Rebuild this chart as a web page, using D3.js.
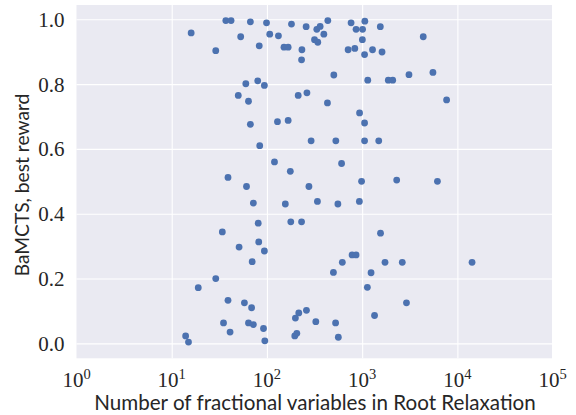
<!DOCTYPE html>
<html>
<head>
<meta charset="utf-8">
<script src="https://cdn.jsdelivr.net/npm/d3@7"></script>
<style>
  body { margin: 0; background: #fff; overflow: hidden; }
  svg { display: block; }
  .tick-label { font-family: 'Liberation Serif', serif; fill: #262626; }
  .axis-title { font-family: Lato, 'DejaVu Sans', sans-serif; fill: #262626; }
  .grid-line { stroke: #fff; stroke-width: 1.1; }
</style>
</head>
<body>
<div id="chart"></div>
<script>
// number of fractional variables in the root relaxation (x) and BaMCTS best reward (y)
const fracVars = [16, 37, 42, 29, 53, 67, 83, 99, 107, 60, 80, 94, 50, 64, 67, 84,
  39, 61, 72, 81, 34, 82, 51, 94, 70, 29, 19, 39, 58, 69, 35, 64, 72, 41, 92,
  14, 15, 95, 181, 132, 258, 151, 167, 233, 231, 334, 362, 436, 316, 342, 396,
  504, 765, 863, 1010, 712, 837, 1005, 1060, 1067, 213, 263, 432, 129, 167, 291,
  529, 939, 1060, 1060, 120, 176, 276, 608, 986, 156, 339, 556, 935, 178, 231,
  619, 499, 784, 863, 1134, 199, 216, 260, 326, 526, 196, 206, 562, 1551, 4380,
  1285, 1617, 1145, 1882, 2094, 3102, 5536, 7706, 1493, 2305, 6172, 1559, 1738,
  2638, 14260, 1240, 2920, 1349];
const bestReward = [0.958, 0.996, 0.996, 0.903, 0.946, 0.992, 0.918, 0.989, 0.954,
  0.801, 0.810, 0.796, 0.765, 0.747, 0.676, 0.610, 0.512, 0.484, 0.433, 0.371,
  0.344, 0.313, 0.297, 0.285, 0.252, 0.200, 0.172, 0.133, 0.125, 0.110, 0.063,
  0.063, 0.058, 0.035, 0.046, 0.023, 0.004, 0.008, 0.985, 0.949, 0.977, 0.914,
  0.914, 0.906, 0.875, 0.969, 0.978, 0.996, 0.937, 0.929, 0.954, 0.828, 0.989,
  0.969, 0.969, 0.906, 0.910, 0.937, 0.891, 0.994, 0.765, 0.773, 0.742, 0.684,
  0.688, 0.625, 0.625, 0.711, 0.680, 0.625, 0.560, 0.531, 0.484, 0.555, 0.500,
  0.430, 0.438, 0.430, 0.438, 0.375, 0.375, 0.250, 0.219, 0.273, 0.273, 0.173,
  0.078, 0.094, 0.102, 0.067, 0.063, 0.023, 0.031, 0.019, 0.977, 0.946, 0.906,
  0.899, 0.812, 0.812, 0.812, 0.829, 0.836, 0.751, 0.625, 0.504, 0.500, 0.340,
  0.250, 0.250, 0.250, 0.218, 0.125, 0.086];

const xTickExps = [0, 1, 2, 3, 4, 5];
const yTicks = [0.0, 0.2, 0.4, 0.6, 0.8, 1.0];
const xTitle = 'Number of fractional variables in Root Relaxation';
const yTitle = 'BaMCTS, best reward';

const width = 576, height = 415;
const marginLeft = 76.5, marginRight = 24, marginTop = 5, marginBottom = 56.7;
const innerWidth = width - marginLeft - marginRight;
const innerHeight = height - marginTop - marginBottom;

const data = fracVars.map((v, i) => ({ x: v, y: bestReward[i] }));

const svg = d3.select('#chart')
  .append('svg')
  .attr('width', width)
  .attr('height', height);

const chart = svg.append('g')
  .attr('transform', 'translate(' + marginLeft + ',' + marginTop + ')');

const x = d3.scaleLog().domain([1, 1e5]).range([0, innerWidth + 0.6]);
const y = d3.scaleLinear().domain([-0.046, 1.044]).range([innerHeight, 0]);

// background
chart.append('rect')
  .attr('width', innerWidth)
  .attr('height', innerHeight)
  .attr('fill', '#EAEAF2');

// gridlines
const xAxis = d3.axisBottom(x).tickValues(xTickExps.map(e => Math.pow(10, e)))
  .tickSize(-innerHeight).tickFormat(() => '');
const gx = chart.append('g')
  .attr('transform', 'translate(0,' + innerHeight + ')')
  .call(xAxis);
const yAxis = d3.axisLeft(y).tickValues(yTicks).tickSize(-innerWidth).tickFormat(() => '');
const gy = chart.append('g').call(yAxis);
[gx, gy].forEach(g => {
  g.select('.domain').remove();
  g.selectAll('.tick text').remove();
  g.selectAll('.tick line').attr('class', 'grid-line')
    .attr('stroke', null);
});
// drop lines that fall outside the face
gx.selectAll('.tick').filter(d => x(d) < 1 || x(d) > innerWidth - 1).remove();

// points
chart.append('g')
  .selectAll('circle')
  .data(data)
  .enter()
  .append('circle')
  .attr('cx', d => x(d.x))
  .attr('cy', d => y(d.y))
  .attr('r', 3.4)
  .attr('fill', '#4C72B0');

// y tick labels
chart.append('g')
  .selectAll('text')
  .data(yTicks)
  .enter()
  .append('text')
  .attr('class', 'tick-label')
  .attr('x', -12)
  .attr('y', d => y(d))
  .attr('dy', '0.36em')
  .attr('text-anchor', 'end')
  .style('font-size', '21px')
  .text(d => d.toFixed(1));

// x tick labels, 10^n
const xl = chart.append('g')
  .selectAll('text')
  .data(xTickExps)
  .enter()
  .append('text')
  .attr('class', 'tick-label')
  .attr('x', d => x(Math.pow(10, d)))
  .attr('y', innerHeight + 28.3)
  .attr('text-anchor', 'middle')
  .style('font-size', '21px');
xl.append('tspan').text('10');
xl.append('tspan')
  .attr('dy', -8)
  .style('font-size', '14.5px')
  .text(d => d);

// axis titles
svg.append('text')
  .attr('class', 'axis-title')
  .attr('x', 315)
  .attr('y', 410)
  .attr('text-anchor', 'middle')
  .style('font-size', '20.6px')
  .text(xTitle);

svg.append('text')
  .attr('class', 'axis-title')
  .attr('transform', 'translate(29,' + 185 + ') rotate(-90)')
  .attr('text-anchor', 'middle')
  .style('font-size', '19.2px')
  .text(yTitle);
</script>
</body>
</html>
